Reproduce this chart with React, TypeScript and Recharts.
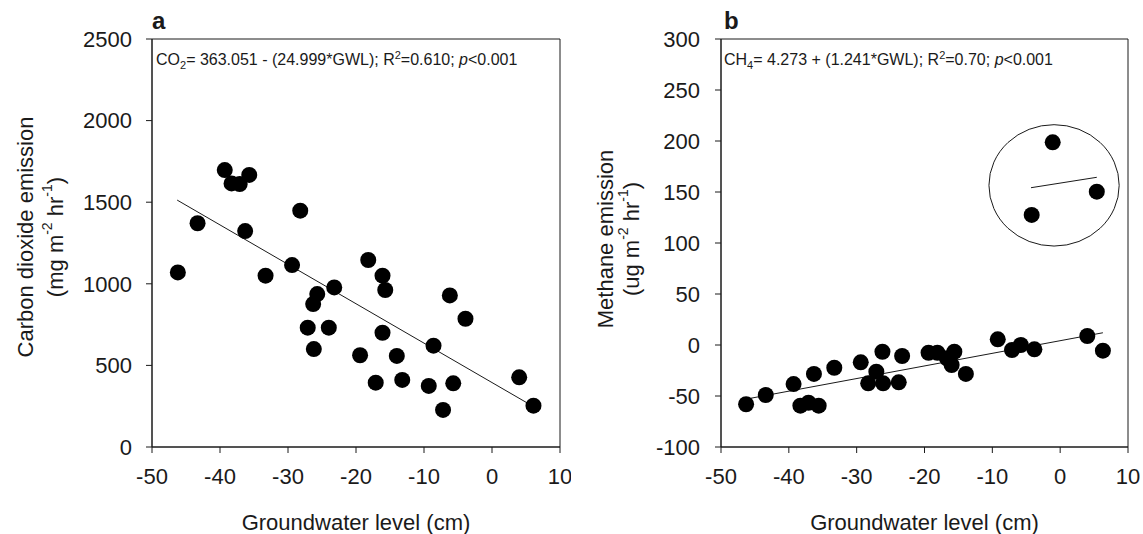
import { ScatterChart, Scatter, XAxis, YAxis, ReferenceLine, ReferenceArea } from 'recharts';

// groundwater level axis
const gwlTicks = [-50, -40, -30, -20, -10, 0, 10];

// panel a - carbon dioxide
const co2Ticks = [0, 500, 1000, 1500, 2000, 2500];
const co2Gwl = [-46.2, -43.3, -39.3, -38.3, -37.1, -35.7, -36.3, -33.3, -29.4, -28.2, -27.1, -26.3, -26.2, -25.7, -24.0, -23.2, -19.4, -18.2, -17.1, -16.1, -16.1, -15.7, -14.0, -13.2, -9.3, -8.6, -7.2, -6.2, -5.7, -3.9, 4.0, 6.1];
const co2Flux = [1070, 1371, 1697, 1615, 1611, 1667, 1323, 1050, 1115, 1448, 731, 876, 600, 937, 731, 978, 562, 1146, 394, 1050, 700, 962, 558, 411, 374, 621, 227, 929, 390, 786, 427, 253];
const co2FitGwl = [-46.3, 6.0];
const co2FitFlux = [1513, 250];

// panel b - methane
const ch4Ticks = [-100, -50, 0, 50, 100, 150, 200, 250, 300];
const ch4Gwl = [-46.3, -43.4, -39.3, -38.3, -37.1, -35.6, -36.3, -33.3, -29.4, -28.3, -27.1, -26.2, -26.1, -23.8, -23.3, -19.4, -18.1, -16.7, -15.6, -16.0, -13.9, -9.2, -7.1, -5.8, -3.8, 4.0, 6.3];
const ch4Flux = [-58.1, -49.0, -38.3, -59.5, -56.6, -59.5, -28.4, -22.3, -17.0, -37.6, -26.2, -6.6, -37.6, -36.6, -10.8, -7.6, -7.6, -13.1, -6.6, -19.6, -28.4, 5.6, -4.9, 0, -4.2, 8.8, -5.6];
const ch4FitGwl = [-45.7, 6.3];
const ch4FitFlux = [-52.3, 12.0];
const outlierGwl = [-1.1, -4.2, 5.4];
const outlierFlux = [198.7, 127.5, 150.3];
const outlierFitGwl = [-4.3, 5.4];
const outlierFitFlux = [154.2, 164.4];
const circleGwl = [-10.5, 8.7];
const circleFlux = [97, 216];

const toPoints = (xs: number[], ys: number[]) => xs.map((x, i) => ({ x, y: ys[i] }));

const co2Data = toPoints(co2Gwl, co2Flux);
const ch4Data = toPoints(ch4Gwl, ch4Flux);
const outlierData = toPoints(outlierGwl, outlierFlux);
const co2Fit = toPoints(co2FitGwl, co2FitFlux);
const ch4Fit = toPoints(ch4FitGwl, ch4FitFlux);
const outlierFit = toPoints(outlierFitGwl, outlierFitFlux);

const font = '"Liberation Sans", Arial, Helvetica, sans-serif';
const ink = '#1a1a1a';
const tickStyle = { fontSize: 22, fontFamily: font, fill: ink };

const Dot = (props: any) => <circle cx={props.cx} cy={props.cy} r={8} fill="#000" />;

const xTitle = (props: any) => {
  const vb = props.viewBox;
  return (
    <text x={vb.x + vb.width / 2} y={vb.y + 83} textAnchor="middle" fontFamily={font} fontSize={22} fill={ink}>
      Groundwater level (cm)
    </text>
  );
};

function yTitle(line1: string, unit: string, dx1: number, dx2: number, dy: number) {
  return (props: any) => {
    const vb = props.viewBox;
    const left = vb.x + vb.width;
    const cy = vb.y + vb.height / 2 + dy;
    return (
      <g fontFamily={font} fontSize={22} fill={ink}>
        <text transform={`translate(${left + dx1},${cy}) rotate(-90)`} textAnchor="middle" dominantBaseline="central">
          {line1}
        </text>
        <text transform={`translate(${left + dx2},${cy}) rotate(-90)`} textAnchor="middle" dominantBaseline="central">
          ({unit} m<tspan dy={-8} fontSize={14}>-2</tspan>
          <tspan dy={8}> hr</tspan>
          <tspan dy={-8} fontSize={14}>-1</tspan>
          <tspan dy={8}>)</tspan>
        </text>
      </g>
    );
  };
}

function heading(letter: string, gas: string, sub: string, rest: string, r2: string, dxLetter: number, dxEq: number) {
  return (props: any) => {
    const vb = props.viewBox;
    return (
      <g fontFamily={font} fill={ink}>
        <text x={vb.x + dxLetter} y={vb.y - 10} fontSize={24} fontWeight="bold">{letter}</text>
        <text x={vb.x + dxEq} y={vb.y + 26} fontSize={16}>
          {gas}<tspan dy={4} fontSize={11}>{sub}</tspan>
          <tspan dy={-4}>{rest}; R</tspan>
          <tspan dy={-6} fontSize={11}>2</tspan>
          <tspan dy={6}>={r2}; </tspan>
          <tspan fontStyle="italic">p</tspan>
          <tspan>&lt;0.001</tspan>
        </text>
      </g>
    );
  };
}

const ellipseShape = (props: any) => (
  <ellipse
    cx={props.x + props.width / 2}
    cy={props.y + props.height / 2}
    rx={props.width / 2}
    ry={props.height / 2}
    fill="none"
    stroke={ink}
    strokeWidth={1}
  />
);

export default function App() {
  return (
    <div style={{ position: 'absolute', left: 0, top: 0, width: 1143, height: 534, display: 'flex', background: '#fff' }}>
      <ScatterChart width={571} height={534} margin={{ top: 39, right: 11, bottom: 57, left: 92 }}>
        <XAxis
          type="number"
          dataKey="x"
          domain={[-50, 10]}
          ticks={gwlTicks}
          interval={0}
          tick={tickStyle}
          tickSize={6}
          tickMargin={15}
          stroke={ink}
          height={30}
          label={{ content: xTitle }}
        />
        <YAxis
          type="number"
          dataKey="y"
          domain={[0, 2500]}
          ticks={co2Ticks}
          interval={0}
          tick={tickStyle}
          tickSize={6}
          tickMargin={14}
          stroke={ink}
          width={60}
          label={{ content: yTitle('Carbon dioxide emission', 'mg', -127, -97, -6) }}
        />
        <ReferenceArea
          x1={-50}
          x2={10}
          y1={0}
          y2={2500}
          fill="none"
          stroke={ink}
          strokeWidth={1}
          label={{ content: heading('a', 'CO', '2', '= 363.051 - (24.999*GWL)', '0.610', 0, 4) }}
        />
        <ReferenceLine segment={co2Fit} stroke={ink} strokeWidth={1} />
        <Scatter data={co2Data} shape={Dot} isAnimationActive={false} />
      </ScatterChart>

      <ScatterChart width={572} height={534} margin={{ top: 39, right: 15, bottom: 57, left: 90 }}>
        <XAxis
          type="number"
          dataKey="x"
          domain={[-50, 10]}
          ticks={gwlTicks}
          interval={0}
          tick={tickStyle}
          tickSize={6}
          tickMargin={15}
          stroke={ink}
          height={30}
          label={{ content: xTitle }}
        />
        <YAxis
          type="number"
          dataKey="y"
          domain={[-100, 300]}
          ticks={ch4Ticks}
          interval={0}
          tick={tickStyle}
          tickSize={6}
          tickMargin={15}
          stroke={ink}
          width={60}
          label={{ content: yTitle('Methane emission', 'ug', -116, -90, -4) }}
        />
        <ReferenceArea
          x1={-50}
          x2={10}
          y1={-100}
          y2={300}
          fill="none"
          stroke={ink}
          strokeWidth={1}
          label={{ content: heading('b', 'CH', '4', '= 4.273 + (1.241*GWL)', '0.70', 3, 3) }}
        />
        <ReferenceArea
          x1={circleGwl[0]}
          x2={circleGwl[1]}
          y1={circleFlux[0]}
          y2={circleFlux[1]}
          shape={ellipseShape}
        />
        <ReferenceLine segment={ch4Fit} stroke={ink} strokeWidth={1} />
        <ReferenceLine segment={outlierFit} stroke={ink} strokeWidth={1} />
        <Scatter data={ch4Data} shape={Dot} isAnimationActive={false} />
        <Scatter data={outlierData} shape={Dot} isAnimationActive={false} />
      </ScatterChart>
    </div>
  );
}
